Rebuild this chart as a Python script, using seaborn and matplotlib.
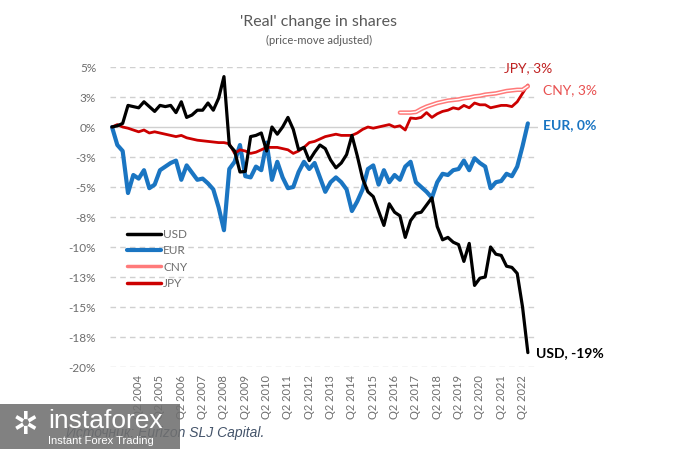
import numpy as np
import pandas as pd
import matplotlib
matplotlib.use("Agg")
import matplotlib.pyplot as plt
from matplotlib.lines import Line2D
from matplotlib.patches import Rectangle
import seaborn as sns

sns.set_style("white")
plt.rcParams['font.family'] = ['Lato', 'DejaVu Sans']

# ---------------- data ----------------
years = list(range(2003, 2023))
quarters = [f"Q{q} {y}" for y in years for q in (1, 2, 3, 4)][:79]   # Q1 2003 .. Q3 2022

usd = [0, 0.1, 0.3, 1.8, 1.7, 1.6, 2.1, 1.7, 1.3, 1.8,
       1.7, 1.8, 1.2, 2.1, 0.8, 1.0, 1.4, 1.4, 2.0, 1.4,
       2.4, 4.2, -1.5, -2.0, -3.75, -3.7, -0.8, -0.7, -0.5, -2.0,
       0.0, -0.6, 0.0, 0.8, -0.2, -1.9, -1.7, -2.8, -2.1, -1.5,
       -1.8, -2.75, -3.4, -3.0, -2.3, -0.7, -2.4, -4.3, -5.4, -5.8,
       -7.0, -8.2, -6.4, -7.1, -7.4, -9.2, -7.8, -7.2, -7.1, -6.5,
       -5.9, -8.3, -9.4, -9.2, -9.6, -9.8, -11.2, -9.7, -13.2, -12.6,
       -12.5, -10.0, -10.6, -10.7, -11.6, -11.7, -12.2, -15.0, -18.8]

eur = [0, -1.5, -2.0, -5.5, -4.0, -4.3, -3.6, -5.1, -4.8, -3.6,
       -3.3, -3.0, -2.8, -4.4, -3.2, -3.8, -4.4, -4.3, -4.7, -5.2,
       -6.7, -8.6, -3.5, -2.9, -1.5, -4.1, -4.2, -3.3, -3.6, -1.3,
       -4.4, -2.9, -4.2, -5.1, -5.0, -3.75, -2.9, -3.5, -3.0, -4.2,
       -5.4, -4.6, -4.2, -4.6, -5.2, -7.0, -6.2, -5.2, -3.5, -3.2,
       -4.8, -3.6, -4.6, -4.0, -4.4, -3.3, -2.9, -4.6, -5.0, -5.4,
       -5.9, -4.6, -3.9, -4.0, -3.6, -3.5, -2.8, -3.6, -2.6, -3.0,
       -3.3, -5.1, -4.6, -4.5, -3.9, -4.1, -3.3, -1.6, 0.3]

jpy = [0, 0.2, 0.0, -0.1, -0.25, -0.4, -0.25, -0.5, -0.4, -0.5,
       -0.6, -0.7, -0.8, -0.7, -0.9, -1.0, -1.1, -1.15, -1.2, -1.25,
       -1.3, -1.3, -1.4, -2.2, -1.9, -2.0, -2.2, -2.1, -1.9, -1.7,
       -1.7, -1.7, -1.8, -1.9, -2.2, -2.0, -1.7, -1.3, -1.2, -1.0,
       -0.8, -0.7, -0.6, -0.7, -0.7, -0.7, -0.5, -0.2, 0.0, -0.1,
       0.0, 0.1, 0.2, 0.0, 0.1, -0.25, 0.75, 0.7, 0.8, 1.2,
       0.8, 1.1, 1.3, 1.4, 1.6, 1.5, 1.8, 1.6, 2.0, 1.85,
       1.85, 1.6, 1.7, 1.8, 1.8, 1.7, 2.1, 2.8, 3.5]

cny = [np.nan] * 54 + [1.2, 1.2, 1.2, 1.25, 1.5, 1.7, 1.85, 2.0, 2.1, 2.2,
                       2.25, 2.3, 2.4, 2.45, 2.55, 2.6, 2.7, 2.75, 2.8, 2.9,
                       3.0, 3.05, 3.1, 3.1, 3.4]

ytick_vals = [5, 2.5, 0, -2.5, -5, -7.5, -10, -12.5, -15, -17.5, -20]
ytick_labels = ["5%", "3%", "0%", "-3%", "-5%", "-8%", "-10%", "-13%", "-15%", "-18%", "-20%"]
xtick_labels = [f"Q2 {y}" for y in range(2004, 2023)]

end_labels = {"USD": "USD, -19%", "EUR": "EUR, 0%", "CNY": "CNY, 3%", "JPY": "JPY, 3%"}

df = pd.DataFrame({"q": np.arange(len(quarters)), "quarter": quarters,
                   "USD": usd, "EUR": eur, "CNY": cny, "JPY": jpy})

# ---------------- styling ----------------
C_USD = "#000000"
C_EUR = "#1a75c2"
C_CNY = "#ff7a7a"
C_JPY = "#cc0000"
GRAY = "#6d6d6d"

fig = plt.figure(figsize=(6.75, 4.49), dpi=100)
ax = fig.add_axes([110 / 675, 1 - 367 / 449, 428 / 675, 300 / 449])

# gridlines
for v in ytick_vals:
    if v == 0:
        ax.axhline(v, color="#d0d0d0", lw=1.0, zorder=0)
    else:
        ax.axhline(v, color="#d0d0d0", lw=1.0, ls=(0, (4, 3)), zorder=0)

sns.lineplot(data=df, x="q", y="JPY", ax=ax, color=C_JPY, lw=2.0, zorder=3)
sns.lineplot(data=df, x="q", y="CNY", ax=ax, color=C_CNY, lw=3.2, zorder=4)
sns.lineplot(data=df, x="q", y="CNY", ax=ax, color="white", lw=1.0, zorder=5)
sns.lineplot(data=df, x="q", y="EUR", ax=ax, color=C_EUR, lw=3.0, zorder=2)
sns.lineplot(data=df, x="q", y="USD", ax=ax, color=C_USD, lw=2.3, zorder=6)

ax.set_xlim(-0.375, 79.9)
ax.set_ylim(-20, 5)
ax.set_yticks(ytick_vals)
ax.set_yticklabels(ytick_labels)
xt = [quarters.index(l) for l in xtick_labels if l in quarters]
ax.set_xticks(xt)
ax.set_xticklabels([quarters[i] for i in xt], rotation=90)
ax.tick_params(axis="y", length=0, pad=10, labelsize=8.5, labelcolor=GRAY)
ax.tick_params(axis="x", length=0, pad=6, labelsize=8, labelcolor=GRAY)
ax.set_xlabel("")
ax.set_ylabel("")
for s in ax.spines.values():
    s.set_visible(False)

# end labels
last = len(quarters) - 1
ax.annotate(end_labels["USD"], xy=(last, usd[-1]), xytext=(6, 0), textcoords="offset points",
            ha="left", va="center", fontsize=10, fontweight="bold", color=C_USD)
ax.annotate(end_labels["EUR"], xy=(last, eur[-1]), xytext=(11, -1), textcoords="offset points",
            ha="left", va="center", fontsize=10, fontweight="bold", color=C_EUR)
ax.annotate(end_labels["CNY"], xy=(last, cny[-1]), xytext=(11, -3), textcoords="offset points",
            ha="left", va="center", fontsize=10, color="#e85050")
ax.annotate(end_labels["JPY"], xy=(last, jpy[-1]), xytext=(-17, 12), textcoords="offset points",
            ha="left", va="center", fontsize=10, color="#c02020")

# legend
handles = [Line2D([], [], color=C_USD, lw=2.5),
           Line2D([], [], color=C_EUR, lw=3.0),
           Line2D([], [], color=C_CNY, lw=2.5),
           Line2D([], [], color=C_JPY, lw=2.5)]
leg = ax.legend(handles, ["USD", "EUR", "CNY", "JPY"], loc="upper left",
                bbox_to_anchor=(127 / 675, 1 - 229 / 449), bbox_transform=fig.transFigure,
                frameon=False, fontsize=8.5, handlelength=2.9, handletextpad=0.15,
                labelspacing=0.45, borderpad=0, borderaxespad=0)
for t in leg.get_texts():
    t.set_color(GRAY)

# titles
fig.text(0.472, 1 - 22 / 449, "'Real' change in shares", ha="center", va="center",
         fontsize=11.5, color="#595959")
fig.text(0.472, 1 - 40 / 449, "(price-move adjusted)", ha="center", va="center",
         fontsize=8, color="#595959")

# source + watermark
fig.text(66 / 675, 1 - 437 / 449, "Источник: Eurizon SLJ Capital.", ha="left", va="baseline",
         fontsize=10, style="italic", color="#44546a", family=["Liberation Sans", "DejaVu Sans"])
fig.patches.append(Rectangle((0, 0), 180 / 675, 45 / 449, transform=fig.transFigure,
                             facecolor="#707070", alpha=0.88, edgecolor="none", zorder=10))
fig.text(48 / 675, 1 - 421 / 449, "instaforex", ha="left", va="center", fontsize=19,
         color="white", zorder=11, family=["Liberation Sans", "DejaVu Sans"])
fig.text(48 / 675, 1 - 441 / 449, "Instant Forex Trading", ha="left", va="center", fontsize=8,
         color="white", zorder=11, family=["Liberation Sans", "DejaVu Sans"])
fig.text(25 / 675, 1 - 425 / 449, "✲", ha="center", va="center", fontsize=22,
         color="white", zorder=11, family=["DejaVu Sans"])

fig.savefig("out.png", dpi=100)
